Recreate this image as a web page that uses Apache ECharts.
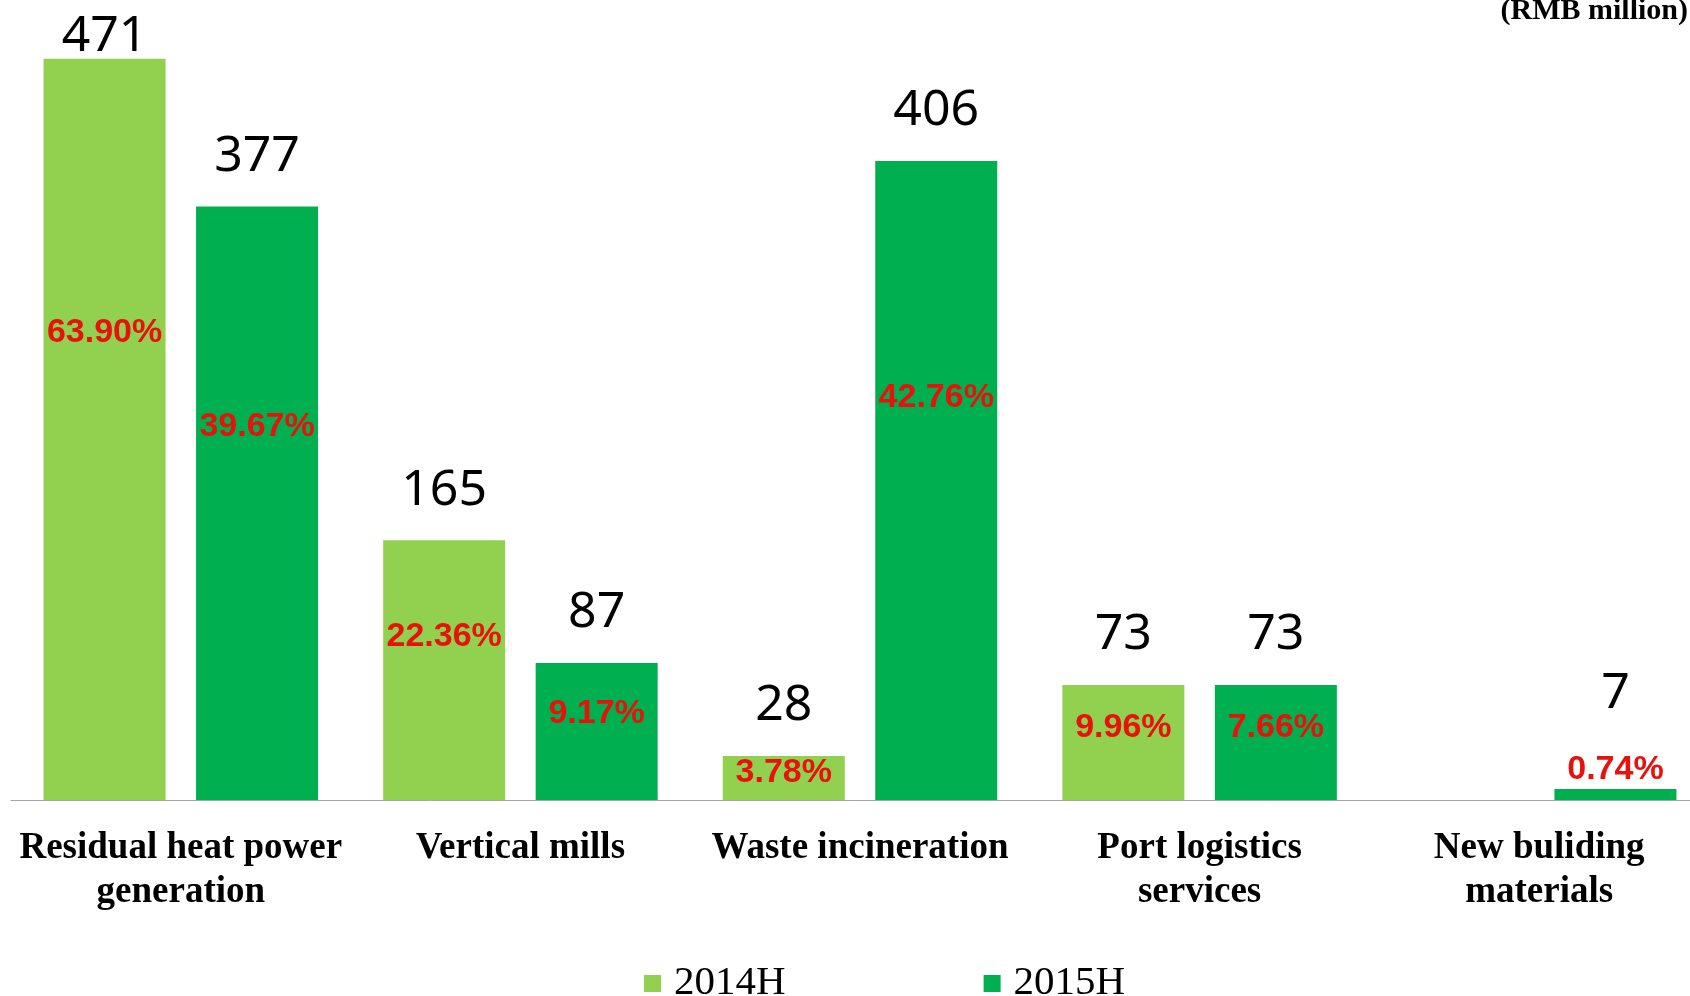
<!DOCTYPE html>
<html>
<head>
<meta charset="utf-8">
<title>Revenue by segment</title>
<script src="https://cdn.jsdelivr.net/npm/echarts@6/dist/echarts.min.js"></script>
<style>
  html, body { margin: 0; padding: 0; background: #ffffff; }
  #main { width: 1690px; height: 996px; }
</style>
</head>
<body>
<div id="main"></div>
<script>
// data
var categories = ["Residual heat power\ngeneration", "Vertical mills", "Waste incineration", "Port logistics\nservices", "New buliding\nmaterials"];
var values2014 = [471, 165, 28, 73, null];
var values2015 = [377, 87, 406, 73, 7];
var share2014 = ["63.90%", "22.36%", "3.78%", "9.96%", null];
var share2015 = ["39.67%", "9.17%", "42.76%", "7.66%", "0.74%"];

// bars too short to hold the red share label get it on top instead
var SMALL = 15;

function makeSeries(name, values, shares, color, stackId) {
  var main = {
    name: name,
    type: "bar",
    stack: stackId,
    barWidth: 122,
    barGap: "25%",
    itemStyle: { color: color },
    label: {
      show: true,
      position: ["50%", "37%"],
      align: "center",
      verticalAlign: "middle",
      color: "#e8120c",
      fontFamily: "Liberation Sans",
      fontWeight: "bold",
      fontSize: 34,
      formatter: function (p) { return shares[p.dataIndex]; }
    },
    data: values.map(function (v) {
      if (v == null) return "-";
      if (v < SMALL) {
        return { value: v, label: { position: "top", distance: 2, verticalAlign: "bottom" } };
      }
      return v;
    })
  };
  // zero-height bar stacked on top, only carries the value label
  var top = {
    name: name,
    type: "bar",
    stack: stackId,
    barWidth: 122,
    barGap: "25%",
    itemStyle: { color: color },
    label: {
      show: true,
      position: "top",
      distance: 25,
      color: "#000000",
      fontFamily: "Noto Sans",
      fontSize: 50,
      formatter: function (p) { return values[p.dataIndex]; }
    },
    // lift the label above the share text on tiny bars, keep the tallest inside the canvas
    labelLayout: function (p) {
      var dy = 0;
      if (values[p.dataIndex] < SMALL) dy = -45;
      if (p.labelRect.y + dy < 12) dy = 12 - p.labelRect.y;
      return { dy: dy };
    },
    data: values.map(function (v) {
      return v == null ? "-" : 0;
    })
  };
  return [main, top];
}

var chart = echarts.init(document.getElementById("main"));
chart.setOption({
  animation: false,
  backgroundColor: "#ffffff",
  title: {
    text: "(RMB million)",
    right: 2,
    top: -4,
    padding: 0,
    textStyle: {
      fontFamily: "Liberation Serif",
      fontWeight: "bold",
      fontSize: 30,
      lineHeight: 30,
      color: "#000000"
    }
  },
  legend: {
    data: ["2014H", "2015H"],
    left: 644,
    top: 963,
    padding: 0,
    itemWidth: 17,
    itemHeight: 17,
    itemGap: 198,
    icon: "rect",
    textStyle: {
      fontFamily: "Liberation Serif",
      fontSize: 41,
      lineHeight: 41,
      color: "#000000",
      padding: [0, 0, 0, 8]
    }
  },
  grid: {
    left: 11,
    right: -19,
    top: 13,
    bottom: 196,
    outerBoundsMode: "none",
    containLabel: false
  },
  xAxis: {
    type: "category",
    data: categories,
    axisLine: { lineStyle: { color: "#a6a6a6", width: 1 } },
    axisTick: { length: 11, lineStyle: { color: "#a6a6a6" } },
    axisLabel: {
      interval: 0,
      margin: 26,
      fontFamily: "Liberation Serif",
      fontWeight: "bold",
      fontSize: 37,
      lineHeight: 44,
      color: "#000000"
    }
  },
  yAxis: {
    type: "value",
    min: 0,
    max: 500,
    show: false
  },
  series: []
    .concat(makeSeries("2014H", values2014, share2014, "#92d050", "y2014"))
    .concat(makeSeries("2015H", values2015, share2015, "#00b050", "y2015"))
});
</script>
</body>
</html>
